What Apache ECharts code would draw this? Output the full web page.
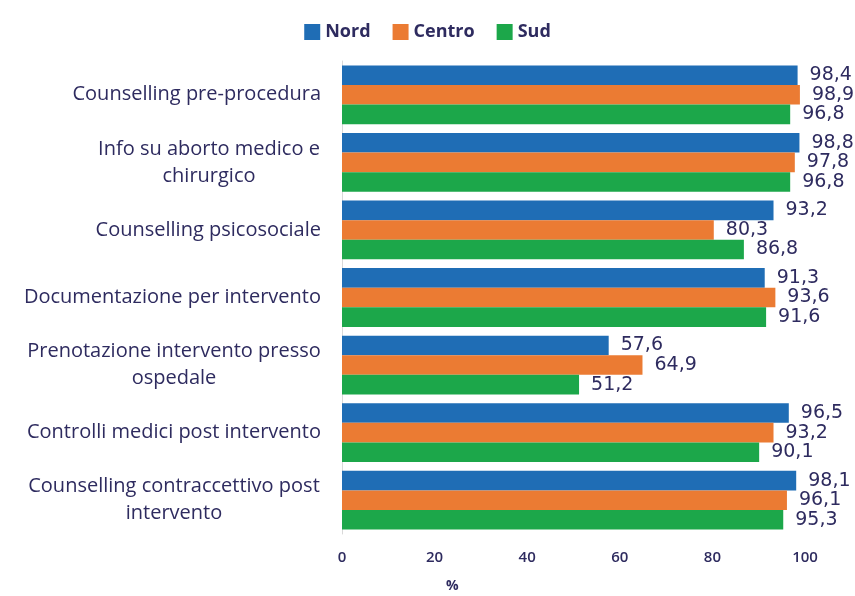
<!DOCTYPE html>
<html>
<head>
<meta charset="utf-8">
<script src="https://cdn.jsdelivr.net/npm/echarts@6/dist/echarts.min.js"></script>
<style>
  html, body { margin: 0; padding: 0; background: #fff; }
  #chart { width: 855px; height: 596px; }
</style>
</head>
<body>
<div id="chart"></div>
<script>
var categories = [
  'Counselling pre-procedura',
  'Info su aborto medico e\nchirurgico',
  'Counselling psicosociale',
  'Documentazione per intervento',
  'Prenotazione intervento presso\nospedale',
  'Controlli medici post intervento',
  'Counselling contraccettivo post\nintervento'
];
var nord = [98.4, 98.8, 93.2, 91.3, 57.6, 96.5, 98.1];
var centro = [98.9, 97.8, 80.3, 93.6, 64.9, 93.2, 96.1];
var sud = [96.8, 96.8, 86.8, 91.6, 51.2, 90.1, 95.3];
var xTicks = [0, 20, 40, 60, 80, 100];

var txt = '#2e2b5f';
var font = '"Open Sans"';

var chart = echarts.init(document.getElementById('chart'));

function bar(name, data, color) {
  return {
    name: name,
    type: 'bar',
    data: data,
    barGap: '0%',
    barCategoryGap: '13%',
    itemStyle: { color: color },
    label: {
      show: true,
      position: 'right',
      distance: 12,
      color: txt,
      fontFamily: '"DejaVu Sans"',
      fontSize: 19,
      formatter: function (p) { return String(p.value).replace('.', ','); }
    }
  };
}

var option = {
  animation: false,
  textStyle: { fontFamily: font },
  legend: {
    top: 18,
    left: 'center',
    icon: 'rect',
    itemWidth: 16,
    itemHeight: 16,
    itemGap: 22,
    textStyle: { color: txt, fontSize: 18, fontWeight: 'bold', fontFamily: font },
    data: ['Nord', 'Centro', 'Sud']
  },
  grid: { left: 342, right: 50, top: 61, bottom: 62 },
  xAxis: {
    type: 'value',
    min: 0,
    max: 100,
    interval: 20,
    axisLine: { show: false },
    axisTick: { show: false },
    splitLine: { show: false },
    axisLabel: {
      color: txt, fontSize: 15, fontWeight: 600, fontFamily: font, margin: 16,
      formatter: function (v) { return xTicks.indexOf(v) >= 0 ? String(v) : ''; }
    }
  },
  yAxis: {
    type: 'category',
    inverse: true,
    data: categories,
    axisLine: { show: true, lineStyle: { color: '#d9d9d9', width: 1 } },
    axisTick: { show: false },
    axisLabel: {
      color: txt, fontSize: 20, fontWeight: 500, fontFamily: font, margin: 21, lineHeight: 27,
      formatter: function (v) {
        var lines = v.split('\n');
        if (lines.length === 1) return v;
        var w = lines[0].length > 25 ? 'w2' : 'w1';
        return lines.map(function (l) { return '{' + w + '|' + l + '}'; }).join('\n');
      },
      rich: {
        w1: { width: 224, align: 'center', fontSize: 20, fontWeight: 500, fontFamily: font, color: txt, lineHeight: 27 },
        w2: { width: 294, align: 'center', fontSize: 20, fontWeight: 500, fontFamily: font, color: txt, lineHeight: 27 }
      }
    }
  },
  graphic: [{
    type: 'text',
    left: 446,
    top: 579,
    style: { text: '%', fill: txt, font: 'bold 14px ' + font }
  }],
  series: [
    bar('Nord', nord, '#1f6db5'),
    bar('Centro', centro, '#eb7b33'),
    bar('Sud', sud, '#1ca74a')
  ]
};

chart.setOption(option);
</script>
</body>
</html>
